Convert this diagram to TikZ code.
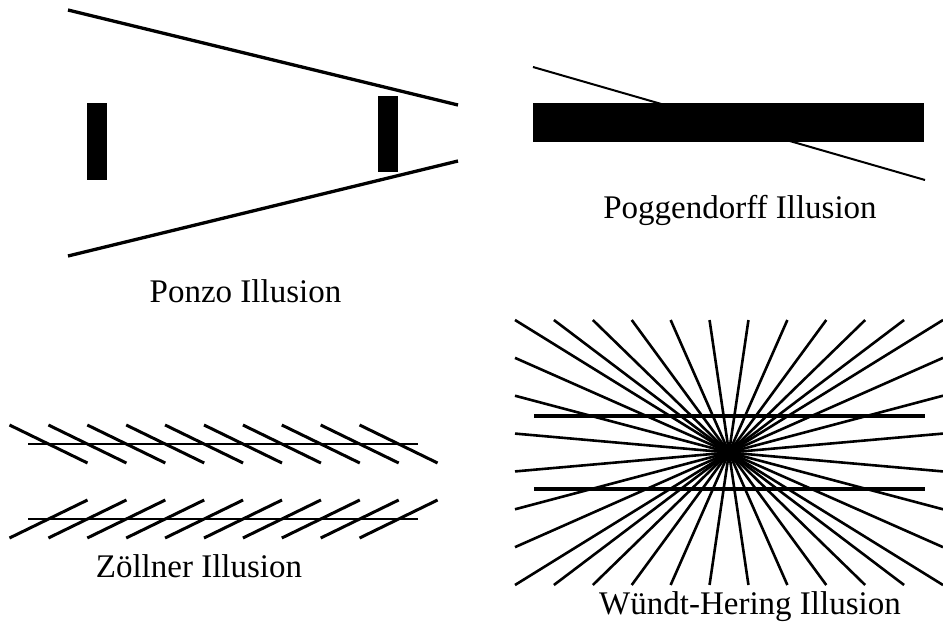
\documentclass[tikz,border=0pt]{standalone}
\usepackage{fontspec}
\setmainfont{Liberation Serif}
\begin{document}
\begin{tikzpicture}[x=1pt,y=-1pt,
  lbl/.style={anchor=base,inner sep=0pt,font=\fontsize{33}{36}\selectfont},
  thick3/.style={line width=3.3pt},
  thin2/.style={line width=2pt},
  ray/.style={line width=2.6pt}]
\useasboundingbox (0,0) rectangle (943,632);
% Ponzo
\draw[thick3] (68,10) -- (458,105);
\draw[thick3] (68,256) -- (458,161);
\fill (87,103) rectangle (107,180);
\fill (378,96) rectangle (398,172);
\node[lbl] (ponzo) at (245.5,302) {Ponzo Illusion};
% Poggendorff
\draw[thin2] (533,67) -- (925,180);
\fill (533,103) rectangle (924,142);
\node[lbl] (pogg) at (740,218) {Poggendorff Illusion};
% Zoellner
\draw[thin2] (28,444) -- (418,444);
\draw[thin2] (28,519) -- (418,519);
\foreach \k in {0,...,9}{
  \pgfmathsetmacro{\s}{9.5+38.9*\k}
  \draw[line width=3pt] (\s,425) -- ({\s+78},463);
  \draw[line width=3pt] (\s,538) -- ({\s+78},500);
}
\node[lbl] (zoell) at (199,577) {Zöllner Illusion};
% Wundt-Hering
\foreach \i in {0,...,11}{
  \pgfmathsetmacro{\xa}{515+428/11*\i}
  \draw[ray] (\xa,320) -- ({1458-\xa},585);
}
\foreach \j in {1,...,6}{
  \pgfmathsetmacro{\ya}{320+265/7*\j}
  \draw[ray] (515,\ya) -- (943,{905-\ya});
}
\draw[thick3] (534,416) -- (925,416);
\draw[thick3] (534,489) -- (925,489);
\node[lbl] (wundt) at (750,614) {Wündt-Hering Illusion};
\end{tikzpicture}
\end{document}
